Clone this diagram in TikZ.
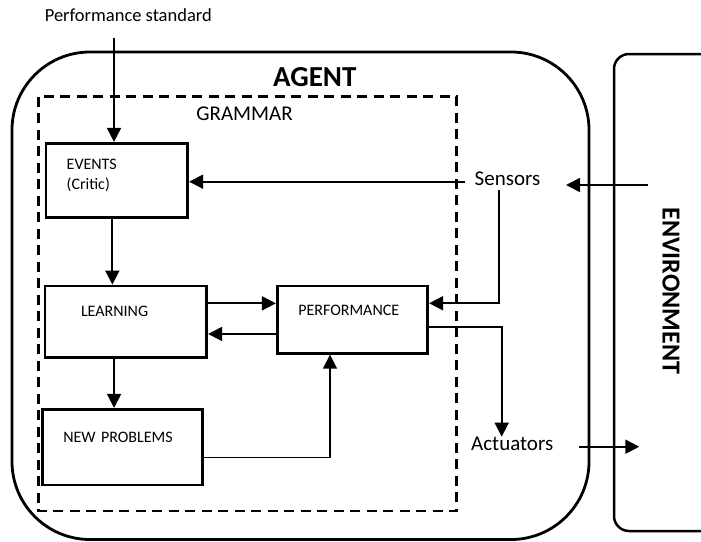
\documentclass[tikz,border=0pt]{standalone}
\usepackage{fontspec}
\setmainfont{Carlito}
\usetikzlibrary{positioning}
\usetikzlibrary{arrows.meta}

\begin{document}
\begin{tikzpicture}
 [x=1pt, y=-1pt,
  post/.style={-{Triangle[length=14pt,width=14pt]},line width=1.8pt},
  thinpost/.style={post,line width=1.6pt},
  unit/.style={draw,rectangle,line width=2.8pt,inner ysep=0pt,align=left,
               anchor=north west,font=\fontsize{16}{20.3}\selectfont},
  tag/.style={inner sep=0pt,font=\fontsize{21}{25}\selectfont},
  title/.style={inner sep=0pt,font=\bfseries\fontsize{29}{34}\selectfont},
  frame/.style={line width=2.8pt}]
 \useasboundingbox (0,0) rectangle (701,541);

 % agent, grammar and environment
 \draw[frame, rounded corners=78pt] (12,52) rectangle (589,539.5);
 \draw[frame, dash pattern=on 10pt off 6.5pt] (38.3,96.7) rectangle (456.7,511);
 \draw[line width=2.5pt, rounded corners=15pt] (720,54) -- (614,54) -- (614,531) -- (720,531);

 \node[title] (agenttitle) at (314.7,77.5) {AGENT};
 \node[tag] (grammartitle) at (244.5,114) {GRAMMAR};
 \node[inner sep=0pt, rotate=-90, font=\bfseries\fontsize{26}{30}\selectfont]
      (envtitle) at (671,291) {ENVIRONMENT};
 \node[inner sep=0pt, font=\fontsize{18.5}{22}\selectfont] (pstd) at (128.3,15) {Performance standard};

 % the four units
 \node[unit, text width=100.3pt, inner xsep=20.7pt, text height=26pt, text depth=48.4pt]
      (critic) at (44.6,141.9) {EVENTS\\(Critic)};
 \node[unit, text width=89.7pt, inner xsep=36pt, text height=30pt, text depth=41.7pt]
      (learner) [below=65.5pt of critic.south west, anchor=north west, xshift=-1pt] {LEARNING};
 \node[unit, text width=108.4pt, inner xsep=21pt, text height=29pt, text depth=38.3pt]
      (perf) [right=67.8pt of learner.north east, anchor=north west] {PERFORMANCE};
 \node[unit, text width=118.8pt, inner xsep=20.6pt, text height=33.4pt, text depth=42.3pt]
      (problems) [below=48.8pt of learner.south west, anchor=north west, xshift=-2.3pt] {NEW PROBLEMS};

 \node[tag] (sensors)   at (507.5,178.4) {Sensors};
 \node[tag] (actuators) at (512.2,443.7) {Actuators};

 \coordinate (psin)   at (114,38);
 \coordinate (envin)  at (648,185);
 \coordinate (envout) at (639.3,446.7);

 % connectors
 \draw[post] (psin) -- (psin |- critic.north);
 \draw[post] ([xshift=-4.5pt]critic.south) -- ([xshift=-4.5pt]critic.south |- learner.north);
 \draw[post] ([xshift=-11.8pt]learner.south) -- ([xshift=-11.8pt]learner.south |- problems.north);
 \draw[post] ([yshift=18.5pt]learner.east) -- ([yshift=18.5pt]learner.east -| perf.west);
 \draw[post] ([yshift=-14.3pt]perf.west) -- ([yshift=-14.3pt]perf.west -| learner.east);
 \draw[thinpost] ([yshift=-10.5pt]problems.east) -| ([xshift=-22.5pt]perf.south);
 \draw[post, shorten <=10pt] ([yshift=-3.3pt]sensors.west) -- ([yshift=-3.3pt]sensors.west -| critic.east);
 \draw[post, shorten <=5pt] ([xshift=-8.2pt]sensors.south) |- ([yshift=16.4pt]perf.east);
 \draw[thinpost] ([yshift=-7.6pt]perf.east) -| ([xshift=-10.5pt]actuators.north);
 \draw[post, shorten >=25.5pt] (envin) -- (envin -| sensors.east);
 \draw[post, shorten <=26pt] (actuators.east |- envout) -- (envout);
\end{tikzpicture}
\end{document}
